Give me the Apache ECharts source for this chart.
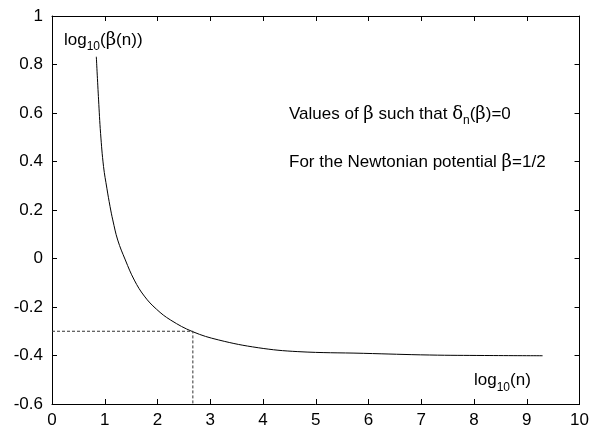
<!DOCTYPE html>
<html>
<head>
<meta charset="utf-8">
<script src="https://cdn.jsdelivr.net/npm/echarts@6/dist/echarts.min.js"></script>
<style>html,body{margin:0;padding:0;background:#fff}#c{width:592px;height:429px}</style>
</head>
<body>
<div id="c"></div>
<script>
// log10(n) values along the curve
var logN = [0.84, 0.883, 0.921, 0.977, 1.04, 1.10, 1.152, 1.246, 1.39, 1.56, 1.75, 1.98, 2.25, 2.67, 3.16, 3.91, 4.66, 5.90, 7.16, 8.20, 9.30];
// log10(beta(n)) values
var logBeta = [0.832, 0.654, 0.516, 0.379, 0.29, 0.215, 0.159, 0.076, -0.006, -0.089, -0.155, -0.209, -0.254, -0.302, -0.336, -0.368, -0.384, -0.391, -0.398, -0.400, -0.401];
// Newtonian reference point (beta = 1/2)
var refX = [0, 2.67, 2.67];
var refY = [-0.3, -0.3, -0.6];
var xTicks = [0, 10, 1];
var yTicks = [-0.6, 1, 0.2];

var curve = logN.map(function (x, i) { return [x, logBeta[i]]; });
var ref = refX.map(function (x, i) { return [x, refY[i]]; });

var FONT = 'Liberation Sans';
var FS = 17;
var chart = echarts.init(document.getElementById('c'), null, { renderer: 'canvas' });

function yAx(pos, showLabel) {
  return {
    type: 'value', position: pos, min: yTicks[0], max: yTicks[1], interval: yTicks[2],
    axisLine: { show: true, onZero: false, lineStyle: { color: '#000', width: 1 } },
    axisTick: { show: true, inside: true, length: 5, lineStyle: { color: '#000' } },
    axisLabel: { show: showLabel, color: '#000', fontFamily: FONT, fontSize: FS, margin: 9,
      formatter: function (v) { return String(Math.round(v * 10) / 10); } },
    splitLine: { show: false }
  };
}
function xAx(pos, showLabel) {
  return {
    type: 'value', position: pos, min: xTicks[0], max: xTicks[1], interval: xTicks[2],
    axisLine: { show: true, onZero: false, lineStyle: { color: '#000', width: 1 } },
    axisTick: { show: true, inside: true, length: 5, lineStyle: { color: '#000' } },
    axisLabel: { show: showLabel, color: '#000', fontFamily: FONT, fontSize: FS, margin: 8 },
    splitLine: { show: false }
  };
}

var base = { fontFamily: FONT, fontSize: FS, fill: '#000', lineHeight: 26, verticalAlign: 'middle' };
var sub = { fontFamily: FONT, fontSize: 12, fill: '#000', verticalAlign: 'bottom', padding: [0, 0, 0, 0] };
var greek = { fontFamily: 'DejaVu Serif', fontSize: 18, fill: '#000', lineHeight: 26, verticalAlign: 'middle' };

function label(x, y, str) {
  return {
    type: 'text', left: x, top: y,
    style: { text: str, rich: { b: base, s: sub, g: greek }, fontFamily: FONT, fontSize: FS, fill: '#000' }
  };
}

chart.setOption({
  animation: false,
  grid: { left: 52, right: 8, top: 16, bottom: 25 },
  xAxis: [xAx('bottom', true), xAx('top', false)],
  yAxis: [yAx('left', true), yAx('right', false)],
  series: [
    { type: 'line', data: curve, smooth: 0.4, showSymbol: false,
      lineStyle: { color: '#000', width: 1 }, xAxisIndex: 0, yAxisIndex: 0 },
    { type: 'line', data: ref, showSymbol: false,
      lineStyle: { color: '#333', width: 1, type: [3, 2] }, xAxisIndex: 0, yAxisIndex: 0 }
  ],
  graphic: [
    label(64, 31, '{b|log}{s|10}{b|(}{g|β}{b|(n))}'),
    label(289, 105, '{b|Values of }{g|β}{b| such that }{g|δ}{s|n}{b|(}{g|β}{b|)=0}'),
    label(289, 153, '{b|For the Newtonian potential }{g|β}{b|=1/2}'),
    label(474, 372, '{b|log}{s|10}{b|(n)}')
  ]
});
</script>
</body>
</html>
